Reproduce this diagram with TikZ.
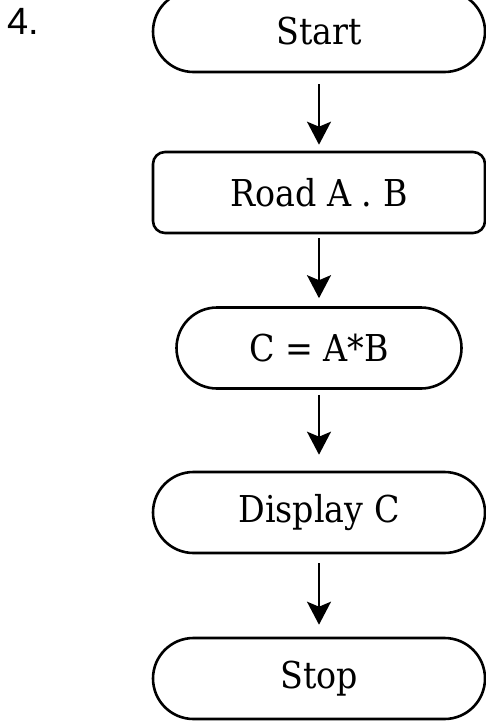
\documentclass[tikz,border=0pt]{standalone}
\usepackage{fontspec}
\setmainfont{DejaVu Serif Condensed}
\newfontfamily\numfont{Liberation Sans}
\usetikzlibrary{arrows.meta, shapes}

\tikzset{
  terminal/.style={draw, line width=1.3pt, rounded corners=20.25pt,
    minimum width=166pt, minimum height=40.5pt, inner sep=0pt,
    font=\fontsize{18.5}{22}\selectfont},
  process/.style={terminal, rounded corners=6pt},
  flowarrow/.style={line width=1pt, -{Stealth[length=11.5pt, width=12pt, inset=2.5pt]}}
}

\begin{document}
\begin{tikzpicture}[x=0.5pt, y=-0.5pt]
\useasboundingbox (0,0) rectangle (486,722);

\node[anchor=base west, inner sep=0pt, font=\numfont\fontsize{19}{22}\selectfont] (num) at (7,35) {4.};

\node[terminal] (start) at (319,31.5) {Start};
\node[process] (read) at (319,192.5) {Road A . B};
\node[terminal, minimum width=142.5pt] (calc) at (319,348) {C = A*B};
\node[terminal] (show) at (319,512.5) {Display C};
\node[terminal] (stop) at (319,678.5) {Stop};

\foreach \a/\b/\s/\e in {start/read/5.5/3, read/calc/2/4, calc/show/2.5/8, show/stop/4.5/6}{
    \draw[flowarrow, shorten <=\s pt, shorten >=\e pt] (\a) -- (\b);
};

\end{tikzpicture}
\end{document}
